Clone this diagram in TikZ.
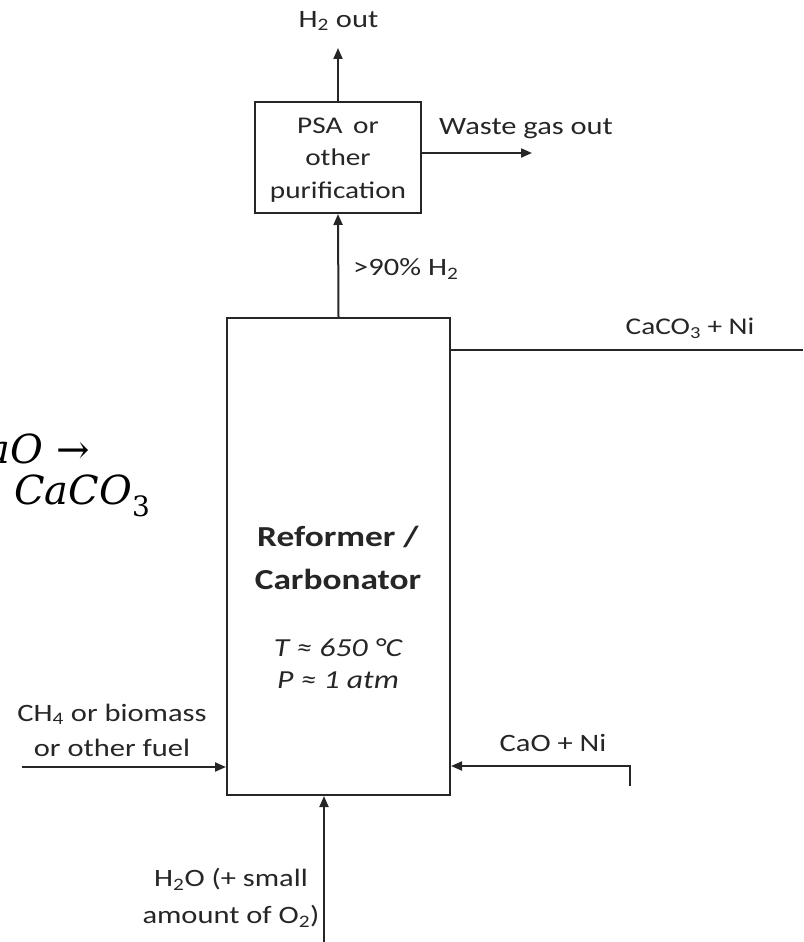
\documentclass[tikz,border=0pt]{standalone}
\usepackage{fontspec}
\setmainfont{Carlito}[FakeStretch=1.22]
\newfontfamily\eqfont{DejaVu Serif}
\usetikzlibrary{arrows.meta,calc}
\tikzset{
  ln/.style={line width=2pt, draw=black!85},
  arr/.style={ln, -{Triangle[length=11pt,width=9pt]}},
  box/.style={ln, rectangle, inner sep=0pt},
  lbl/.style={inner sep=0pt, font=\fontsize{25}{33}\selectfont, align=center, text=black!85},
  eq/.style={inner sep=0pt, font=\fontsize{40}{40}\selectfont\eqfont\itshape},
}
\begin{document}
\begin{tikzpicture}[x=1pt,y=-1pt]
\useasboundingbox (0,0) rectangle (803,942);
% boxes
\node[box, minimum width=223pt, minimum height=477pt] (ref) at (338.5,556.5) {};
\node[box, minimum width=166pt, minimum height=111pt] (psa) at (338,157.5) {};
% texts
\node[lbl, font=\fontsize{24}{32.5}\selectfont] (psatxt) at (338,160) {PSA\, or\\other\\purification};
\node[lbl, font=\fontsize{29}{43}\selectfont\bfseries] (reftxt) at (338,558) {Reformer /\\Carbonator};
\node[lbl, font=\fontsize{26}{32}\selectfont\itshape] (tp) at (338,664) {T ≈ 650 °C\\P ≈ 1 atm};
\node[lbl] (h2lbl) at (338.5,21) {H\textsubscript{2} out};
\node[lbl, anchor=west] (pctlbl) at (353,269) {>90\% H\textsubscript{2}};
\node[lbl, anchor=west] (wastelbl) at (439,129) {Waste gas out};
\node[lbl, font=\fontsize{24}{33}\selectfont] (caco3lbl) at (690,328) {CaCO\textsubscript{3} + Ni};
\node[lbl] (caolbl) at (553,743) {CaO + Ni};
\node[lbl, font=\fontsize{25}{35}\selectfont] (fuellbl) at (112,730) {CH\textsubscript{4} or biomass\\or other fuel};
\node[lbl, font=\fontsize{25}{37}\selectfont] (h2olbl) at (231,898) {H\textsubscript{2}O (+ small\\amount of O\textsubscript{2})};
\node[eq, anchor=east] (eq1) at (90,449) {CaO {\upshape\fontsize{40}{40}\selectfont →}};
\node[eq, anchor=west] (eq2) at (14,496) {CaCO\textsubscript{\upshape 3}};
% coordinates
\coordinate (h2end) at (338,48);
\coordinate (wasteend) at (532,153);
\coordinate (caco3end) at (803,350);
\coordinate (caostart) at (630,786);
\coordinate (caocorner) at (630,766);
\coordinate (fuelstart) at (22,767);
\coordinate (h2ostart) at (324,942);
% connectors
\draw[arr] (psa.north) -- (h2end);
\draw[arr] (ref.north) -- (psa.south);
\draw[arr] (psa.east |- wasteend) -- (wasteend);
\draw[ln] (ref.east |- caco3end) -- (caco3end);
\draw[arr] (caostart) -- (caocorner) -- (ref.east |- caocorner);
\draw[arr] (fuelstart) -- (ref.west |- fuelstart);
\draw[arr] (h2ostart) -- (ref.south -| h2ostart);
\end{tikzpicture}
\end{document}
